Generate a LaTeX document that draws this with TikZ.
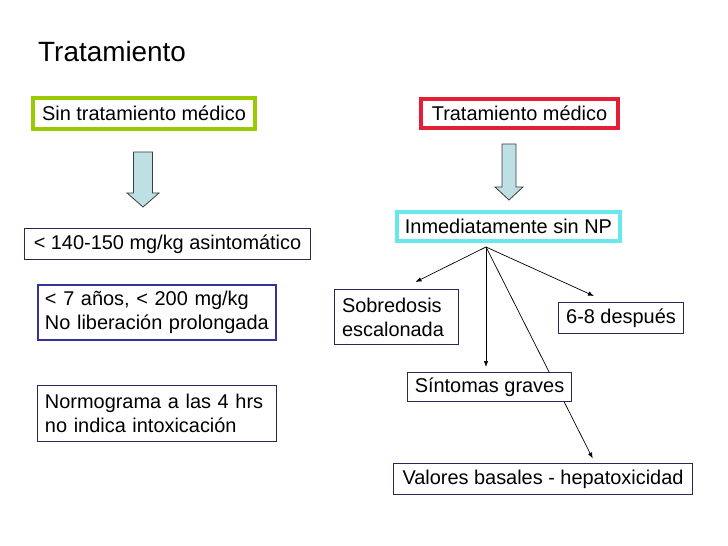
\documentclass[tikz,border=0pt]{standalone}
\usepackage{fontspec}
\setmainfont{Liberation Sans}
\usetikzlibrary{arrows.meta}

\definecolor{limegreen}{RGB}{153,204,0}
\definecolor{alarmred}{RGB}{228,30,52}
\definecolor{lightcyan}{RGB}{102,232,236}
\definecolor{deepnavy}{RGB}{51,51,153}
\definecolor{thinnavy}{RGB}{40,40,80}
\definecolor{arrowfill}{RGB}{190,224,228}
\definecolor{arrowline}{RGB}{60,60,60}

\begin{document}
\begin{tikzpicture}[x=1bp, y=-1bp,
  box/.style={draw, inner sep=0pt, font=\fontsize{20}{24}\selectfont},
  thickbox/.style={box, line width=4bp},
  thinbox/.style={box, thinnavy, text=black, line width=1bp, fill=white},
  blockarrow/.style={draw=arrowline, fill=arrowfill, line width=0.8bp, line join=miter},
  link/.style={-{Latex[length=6bp,width=4.5bp]}, line width=0.7bp}]
\useasboundingbox (0,0) rectangle (728,546);

\node (title) [anchor=base west, inner sep=0pt, font=\fontsize{28}{32}\selectfont] at (38,62) {Tratamiento};

\node (sin) [thickbox, limegreen, text=black, minimum width=222bp, minimum height=31bp] at (144,113.5) {Sin tratamiento médico};
\node (trat) [thickbox, alarmred, text=black, minimum width=197bp, minimum height=29bp] at (519.5,113.5) {Tratamiento médico};

\draw [blockarrow] (133.5,152) -- (152.5,152) -- (152.5,193) -- (159,193) -- (143,207) -- (127,193) -- (133.5,193) -- cycle;
\draw [blockarrow] (502,144) -- (516,144) -- (516,187) -- (523,187) -- (509,200) -- (495,187) -- (502,187) -- cycle;

\node (asin) [thinbox, minimum width=286bp, minimum height=31bp] at (167.5,244) {< 140-150 mg/kg asintomático};
\node (edad) [box, deepnavy, text=black, line width=2bp, align=left, text width=224bp, minimum width=238bp, minimum height=55bp] at (157,312.5) {< 7 años, < 200 mg/kg\\No liberación prolongada};
\node (normo) [thinbox, align=left, text width=224bp, minimum width=239bp, minimum height=56bp] at (157,413.5) {Normograma a las 4 hrs\\no indica intoxicación};

\node (inm) [thickbox, lightcyan, text=black, minimum width=223bp, minimum height=29bp] at (508.5,226.5) {Inmediatamente sin NP};
\coordinate (hub) at (486,247);

\node (sob) [thinbox, align=left, text width=109bp, minimum width=124bp, minimum height=55bp] at (396.5,317) {Sobredosis\\escalonada};
\node (six) [thinbox, minimum width=125bp, minimum height=31bp] at (621,318) {6-8 después};
\node (val) [thinbox, minimum width=299bp, minimum height=31bp] at (543,479) {Valores basales - hepatoxicidad};

\draw [link, shorten >=5bp] (hub) -- ([xshift=52bp]val.north);

\node (sint) [thinbox, minimum width=164bp, minimum height=29bp] at (489.5,387) {Síntomas graves};

\draw [link] (hub) -- ([xshift=19bp,yshift=7bp]sob.north);
\draw [link, shorten >=5bp] (hub) -- (hub |- sint.north);
\draw [link] (hub) -- ([xshift=36bp,yshift=6bp]six.north west);

\end{tikzpicture}
\end{document}
